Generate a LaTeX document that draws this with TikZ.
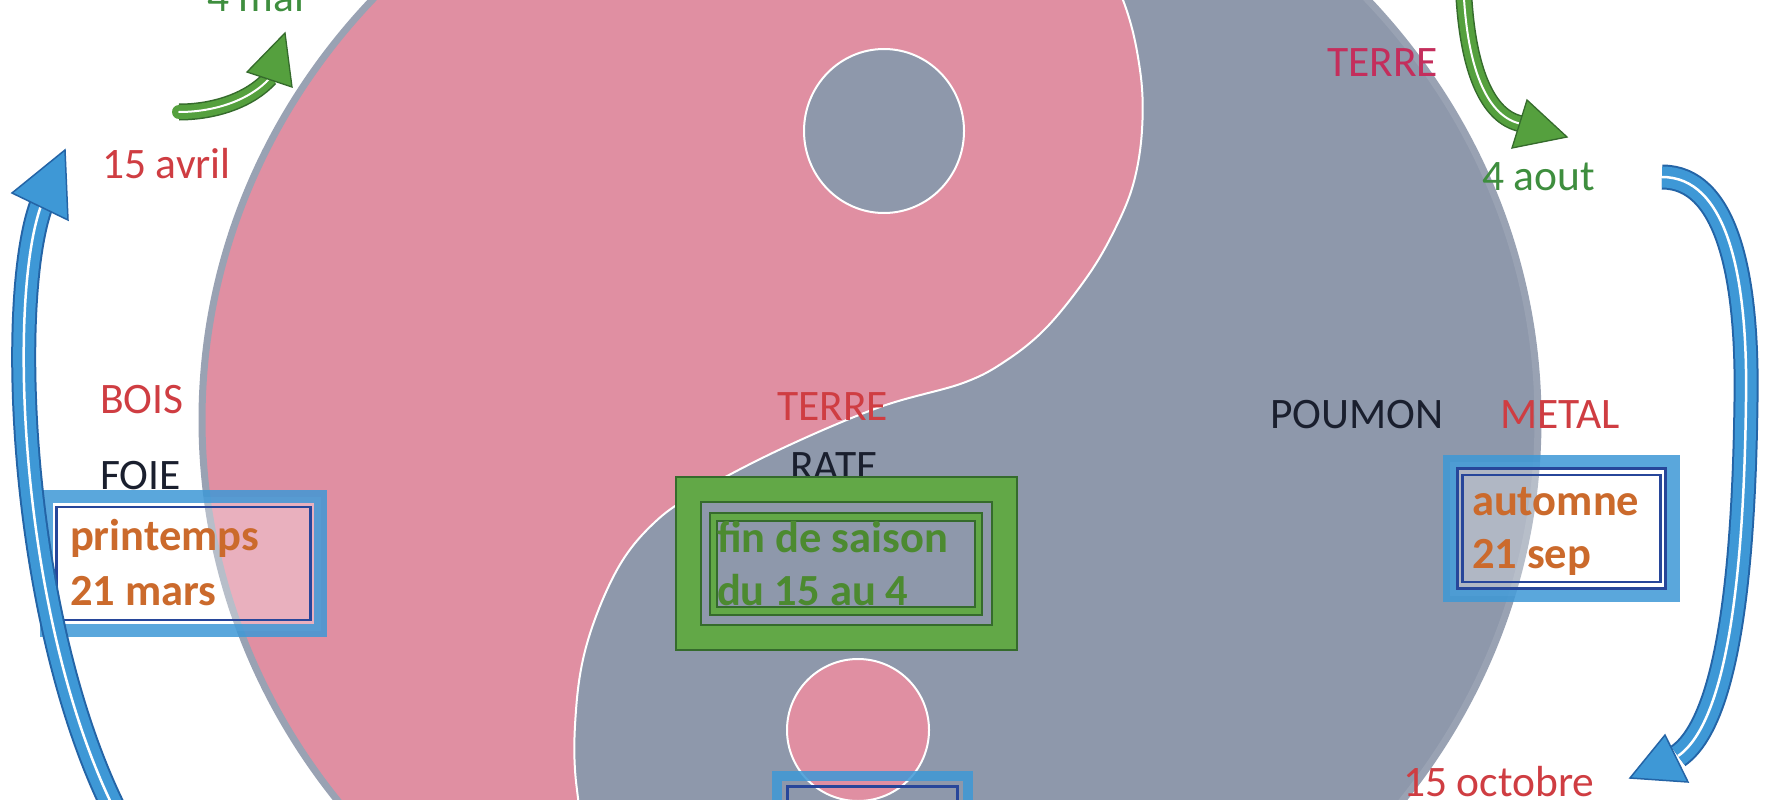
\documentclass[tikz,border=0pt]{standalone}
\usepackage{fontspec}
\setmainfont{Carlito}
\definecolor{pinkfill}{HTML}{E08FA2}
\definecolor{grayfill}{HTML}{8E98AB}
\definecolor{rimgray}{HTML}{99A2B3}
\definecolor{bluemid}{HTML}{3E98D6}
\definecolor{blueedge}{HTML}{2464A6}
\definecolor{bluethin}{HTML}{27469A}
\definecolor{greenband}{HTML}{62A847}
\definecolor{greenedge}{HTML}{356B2C}
\definecolor{arrowgreen}{HTML}{55A03E}
\definecolor{redtxt}{HTML}{CF3D42}
\definecolor{crimson}{HTML}{C42E5C}
\definecolor{darktxt}{HTML}{1A1F2E}
\definecolor{greentxt}{HTML}{3E8E3E}
\definecolor{orangetxt}{HTML}{CB6A2C}
\definecolor{boxgreentxt}{HTML}{4C8A30}
\tikzset{
  lab/.style={inner sep=0pt, outer sep=0pt, anchor=base west, font=\fontsize{43.5}{50}\selectfont},
  blab/.style={inner sep=0pt, outer sep=0pt, anchor=base west, font=\fontsize{44.5}{50}\selectfont\bfseries},
  blueframe/.style={draw=bluemid, draw opacity=0.85, line width=13pt, inner sep=0pt, outer sep=0pt, rectangle},
  thinblue/.style={draw=bluethin, line width=2.2pt, inner sep=0pt, outer sep=0pt, rectangle},
  greenframe/.style={draw=greenband, line width=25pt, inner sep=0pt, outer sep=0pt, rectangle},
  thingreen/.style={draw=greenedge, line width=1.3pt, inner sep=0pt, outer sep=0pt, rectangle},
  bluearrow/.style={draw=bluemid, line width=21pt, preaction={draw=blueedge, line width=25pt}, postaction={draw=white, line width=2.5pt}},
  greenarrow/.style={draw=arrowgreen, line width=14pt, preaction={draw=greenedge, line width=17pt}, postaction={draw=white, line width=2pt}},
  bluehead/.style={fill=bluemid, draw=blueedge, line width=1.5pt, line join=miter},
  greenhead/.style={fill=arrowgreen, draw=greenedge, line width=1.3pt, line join=miter}
}
\begin{document}
\begin{tikzpicture}[x=1pt,y=-1pt]
\useasboundingbox (0,0) rectangle (1790,800);
\clip (0,0) rectangle (1790,800);
\fill[white] (0,0) rectangle (1790,800);

% yin-yang
\coordinate (C) at (870,420);
\fill[grayfill] (C) ellipse [x radius=668, y radius=630];
\filldraw[fill=pinkfill, draw=white, line width=2pt]
  (870,-210) arc[start angle=270, end angle=90, x radius=668, y radius=630]
  -- plot[smooth, tension=0.6] coordinates {(870,1050) (690,990) (600,890) (577,790) (576,710) (588,640) (618,568) (655,522) (700,491) (783,448) (880,407) (963,383) (1007,360) (1047,327) (1087,277) (1113,233) (1133,185) (1142,130) (1140,70) (1123,0) (1080,-90) (990,-170) (870,-210)} -- cycle;
\draw[white, line width=2pt, fill=grayfill] (884,131) ellipse [x radius=80, y radius=82];
\draw[white, line width=2pt, fill=pinkfill] (858,730) circle [radius=71];
\draw[rimgray, line width=7pt] (C) ellipse [x radius=668, y radius=630];

% labels
\node[lab, text=greentxt] (mai) at (207,12) {4 mai};
\node[lab, text=redtxt] (avril) at (102,178) {15 avril};
\node[lab, text=redtxt] (bois) at (100,413) {BOIS};
\node[lab, text=darktxt] (foie) at (100,489) {FOIE};
\node[lab, text=redtxt] (terreM) at (777,420) {TERRE};
\node[lab, text=darktxt] (rate) at (790,480) {RATE};
\node[lab, text=crimson] (terreT) at (1327,77) {TERRE};
\node[lab, text=greentxt] (aout) at (1482,190) {4 aout};
\node[lab, text=darktxt] (poumon) at (1270,428) {POUMON};
\node[lab, text=redtxt] (metal) at (1500,428) {METAL};
\node[lab, text=redtxt] (octobre) at (1403,796) {15 octobre};

% left blue box
\node[blueframe, fill=white, fill opacity=0.3, minimum width=274pt, minimum height=134pt] (boxL) at (183.5,563.5) {};
\node[thinblue, minimum width=254pt, minimum height=113pt] (boxLi) at (boxL.center) {};
\node[blab, text=orangetxt] (printemps) at (70,550) {printemps};
\node[blab, text=orangetxt] (mars) at (70,605) {21 mars};

% right blue box
\node[blueframe, fill=white, fill opacity=0.3, minimum width=224pt, minimum height=134pt] (boxR) at (1561.5,528.5) {};
\node[thinblue, minimum width=208pt, minimum height=120pt] (boxRi) at (boxR.center) {};
\node[thinblue, minimum width=198pt, minimum height=107pt] (boxRii) at (boxR.center) {};
\node[blab, text=orangetxt] (automne) at (1472,515) {automne};
\node[blab, text=orangetxt] (sep) at (1472,568) {21 sep};

% bottom blue box
\node[blueframe, line width=10pt, minimum width=191pt, minimum height=69pt] (boxB) at (872.5,810.5) {};
\node[thinblue, minimum width=170pt, minimum height=48pt] (boxBi) at (boxB.center) {};

% green box
\node[greenframe, minimum width=316pt, minimum height=148pt] (boxG) at (846.5,563.5) {};
\node[thingreen, minimum width=341pt, minimum height=173pt] (boxGo) at (boxG.center) {};
\node[thingreen, minimum width=291pt, minimum height=123pt] (boxGin) at (boxG.center) {};
\node[draw=greenband, line width=6pt, inner sep=0pt, outer sep=0pt, minimum width=265pt, minimum height=94pt] (boxGf) at (846,564) {};
\node[thingreen, minimum width=272pt, minimum height=102pt] (boxGf1) at (boxGf.center) {};
\node[thingreen, minimum width=258pt, minimum height=86pt] (boxGf2) at (boxGf.center) {};
\node[blab, text=boxgreentxt] (fin) at (717,552) {fin de saison};
\node[blab, text=boxgreentxt] (du) at (717,605) {du 15 au 4};

% arrows: coordinates
\coordinate (blS) at (125,830);
\coordinate (blB) at (42,203);
\coordinate (blT) at (65,150);
\coordinate (gaS) at (179,112);
\coordinate (gaB) at (270,78);
\coordinate (gaT) at (285,33);
\coordinate (gbS) at (1463,-25);
\coordinate (gbB) at (1522,124);
\coordinate (gbT) at (1567,137);
\coordinate (brS) at (1662,177);
\coordinate (brB) at (1678,756);
\coordinate (brT) at (1630,778);

% left blue arrow
\draw[bluearrow] (blS) .. controls (20,640) and (5,300) .. (blB);
\filldraw[bluehead] (blT) -- (12,193) -- (68,220) -- cycle;
% right blue arrow
\draw[bluearrow] (brS) .. controls (1725,177) and (1748,270) .. (1746,400) .. controls (1744,560) and (1730,720) .. (brB);
\filldraw[bluehead] (brT) -- (1665,735) -- (1688,782) -- cycle;
% left green arrow
\draw[greenarrow, line cap=round] (gaS) .. controls (215,112) and (250,100) .. (gaB);
\filldraw[greenhead] (gaT) -- (247,72) -- (292,87) -- cycle;
% right green arrow
\draw[greenarrow] (gbS) .. controls (1465,70) and (1488,118) .. (gbB);
\filldraw[greenhead] (gbT) -- (1527,100) -- (1512,148) -- cycle;
\end{tikzpicture}
\end{document}
